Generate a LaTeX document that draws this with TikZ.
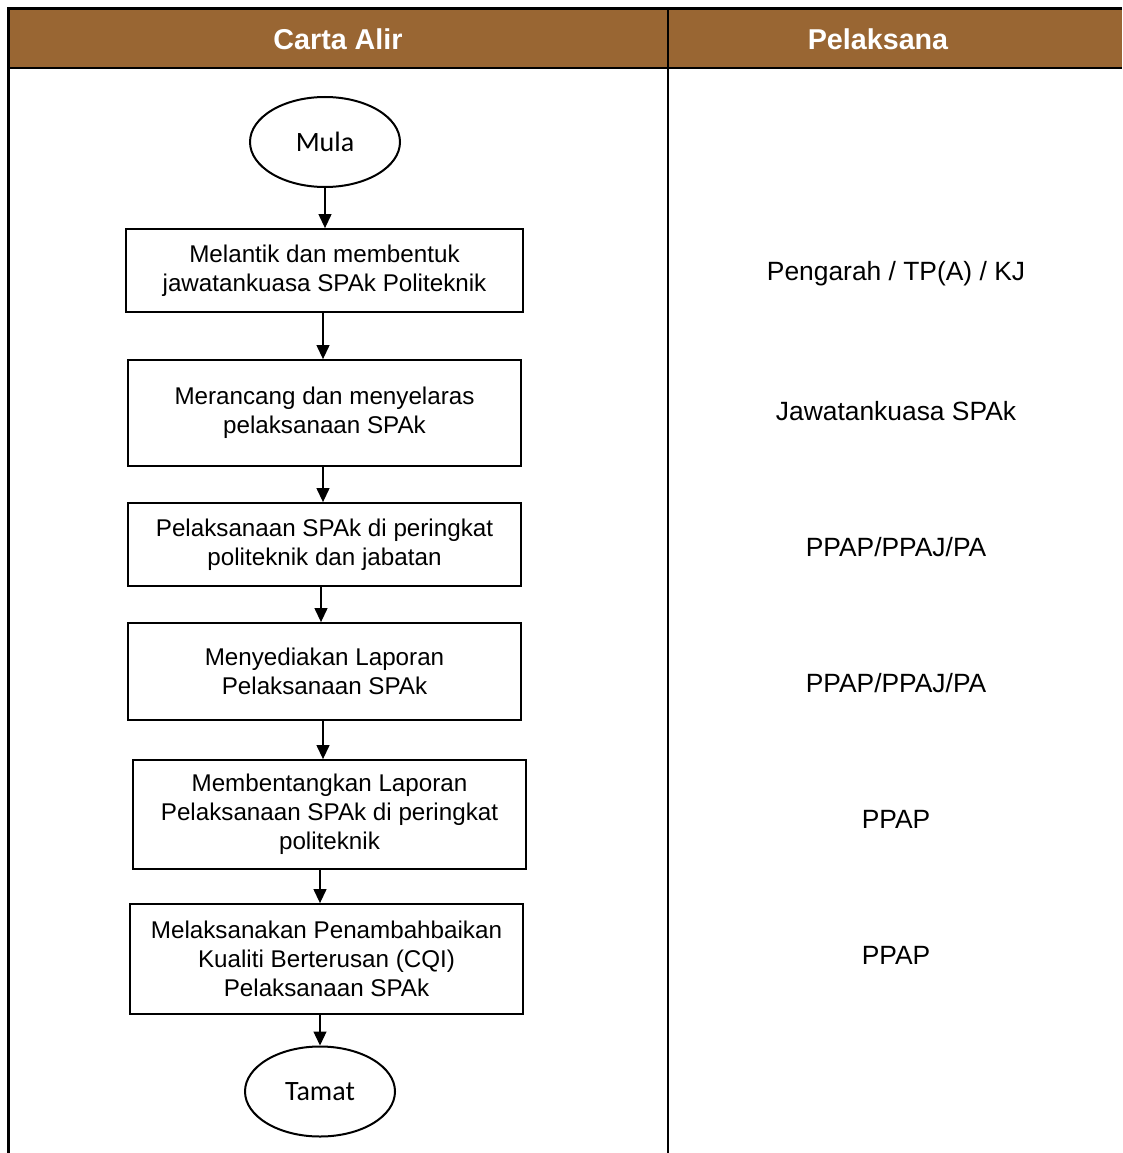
\documentclass[tikz,border=0pt]{standalone}
\usepackage{fontspec}
\setmainfont{Liberation Sans}
\newfontfamily\calib{Carlito}
\usetikzlibrary{shapes.geometric,arrows.meta}
\definecolor{hdr}{RGB}{153,102,51}
\tikzset{
  stepbox/.style={draw, line width=1.8pt, inner sep=0pt, align=center,
    font=\fontsize{24.2}{29}\selectfont},
  term/.style={draw, ellipse, line width=2pt, inner sep=0pt,
    minimum width=150pt, minimum height=90pt, font=\calib\fontsize{28}{32}\selectfont},
  who/.style={inner sep=0pt, font=\fontsize{26.4}{30}\selectfont},
  hd/.style={inner sep=0pt, text=white, font=\bfseries\fontsize{28.7}{32}\selectfont},
  flow/.style={line width=1.2pt, -{Triangle[length=14pt,width=13pt]}},
  grid/.style={line width=2.6pt}
}
\begin{document}
\begin{tikzpicture}[x=1pt,y=-1pt]
\useasboundingbox (0,0) rectangle (1122,1153);
% header
\fill[hdr] (8.5,8.5) rectangle (1122,68);
\draw[grid] (1122,8.5) -- (8.5,8.5) -- (8.5,1153);
\draw[grid] (8.5,68) -- (1122,68);
\draw[grid] (668,8.5) -- (668,1153);
\node[hd] (h1) at (338,39) {Carta Alir};
\node[hd] (h2) at (878,39) {Pelaksana};
% flow
\node[term] (mula) at (325,142) {Mula};
\node[stepbox, minimum width=397pt, minimum height=83pt] (b1) at (324.5,270.5) {Melantik dan membentuk\\jawatankuasa SPAk Politeknik};
\node[stepbox, minimum width=393pt, minimum height=106pt] (b2) at (324.5,413) {Merancang dan menyelaras\\pelaksanaan SPAk};
\node[stepbox, minimum width=393pt, minimum height=83pt] (b3) at (324.5,544.5) {Pelaksanaan SPAk di peringkat\\politeknik dan jabatan};
\node[stepbox, minimum width=393pt, minimum height=97pt] (b4) at (324.5,671.5) {Menyediakan Laporan\\Pelaksanaan SPAk};
\node[stepbox, minimum width=393pt, minimum height=109pt] (b5) at (329.5,814.5) {Membentangkan Laporan\\Pelaksanaan SPAk di peringkat\\politeknik};
\node[stepbox, minimum width=393pt, minimum height=110pt] (b6) at (326.5,959) {Melaksanakan Penambahbaikan\\Kualiti Berterusan (CQI)\\Pelaksanaan SPAk};
\node[term] (tamat) at (320,1091.5) {Tamat};
\coordinate (a0) at (325,0);
\coordinate (a1) at (323,0);
\coordinate (a2) at (323,0);
\coordinate (a3) at (321,0);
\coordinate (a4) at (323,0);
\coordinate (a5) at (320,0);
\coordinate (a6) at (320,0);
\draw[flow] (a0 |- mula.south) -- (a0 |- b1.north);
\draw[flow] (a1 |- b1.south) -- (a1 |- b2.north);
\draw[flow] (a2 |- b2.south) -- (a2 |- b3.north);
\draw[flow] (a3 |- b3.south) -- (a3 |- b4.north);
\draw[flow] (a4 |- b4.south) -- (a4 |- b5.north);
\draw[flow] (a5 |- b5.south) -- (a5 |- b6.north);
\draw[flow] (a6 |- b6.south) -- (tamat.north);
% pelaksana
\node[who] (p1) at (896,274) {Pengarah / TP(A) / KJ};
\node[who] (p2) at (896,411) {Jawatankuasa SPAk};
\node[who] (p3) at (896,547) {PPAP/PPAJ/PA};
\node[who] (p4) at (896,683) {PPAP/PPAJ/PA};
\node[who] (p5) at (896,819) {PPAP};
\node[who] (p6) at (896,955) {PPAP};
\end{tikzpicture}
\end{document}
